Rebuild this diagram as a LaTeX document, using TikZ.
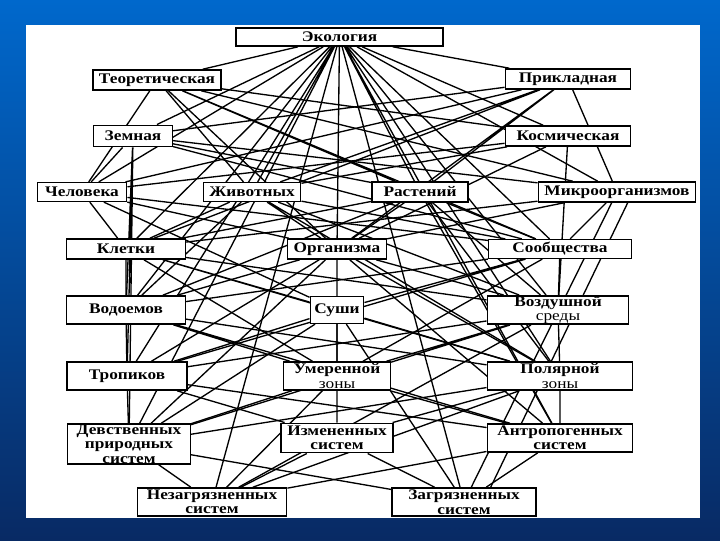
\documentclass[tikz,border=0pt]{standalone}
\usepackage{fontspec}
\setmainfont[FakeStretch=1.18]{Liberation Serif}
\usetikzlibrary{positioning}
\pgfdeclarelayer{bg}
\pgfsetlayers{bg,main}
\definecolor{slidetop}{RGB}{0,104,204}
\definecolor{slidebot}{RGB}{8,42,100}

\begin{document}
\begin{tikzpicture}[
      x=0.75pt, y=-0.75pt,
      block/.style={draw=black, fill=white, line width=1.2pt, inner sep=0.3pt,
        align=center, font=\fontsize{11}{10.8}\selectfont\bfseries},
      link/.style={line width=1pt, black}
    ]

    % slide
    \begin{pgfonlayer}{bg}
    \shade[top color=slidetop, bottom color=slidebot] (0,0) rectangle (720,540);
    \fill[white] (26,25) rectangle (700,518);
    \end{pgfonlayer}
    \useasboundingbox (0,0) rectangle (720,540);

    % level 0-1
    \node[block, minimum width=155pt, minimum height=13.5pt] (eco)    at (339.5,37) {Экология};
    \node[block, minimum width=96pt,  minimum height=15pt]   (teor)   at (157,80)   {Теоретическая};
    \node[block, minimum width=94pt,  minimum height=15pt]   (prikl)  at (568,79)   {Прикладная};
    \node[block, minimum width=59pt,  minimum height=16pt]   (zemn)   at (133,136)  {Земная};
    \node[block, minimum width=94pt,  minimum height=15pt]   (kosm)   at (568,136)  {Космическая};

    % objects
    \node[block, minimum width=67pt,  minimum height=14pt]   (chel)   at (82,192)   {Человека};
    \node[block, minimum width=73pt,  minimum height=14pt]   (zhiv)   at (252,192)  {Животных};
    \node[block, minimum width=72pt,  minimum height=15pt]   (rast)   at (420,192)  {Растений};
    \node[block, minimum width=118pt, minimum height=15pt]   (micro)  at (617,192)  {Микроорганизмов};

    % levels of organisation
    \node[block, minimum width=89pt,  minimum height=15pt]   (klet)   at (126,249)  {Клетки};
    \node[block, minimum width=74pt,  minimum height=15pt]   (org)    at (337,249)  {Организма};
    \node[block, minimum width=107pt, minimum height=14pt]   (soob)   at (560,249)  {Сообщества};

    % environments
    \node[block, minimum width=89pt,  minimum height=21pt]   (vodo)   at (126,310)  {Водоемов};
    \node[block, minimum width=40pt,  minimum height=20pt]   (sushi)  at (337,310)  {Суши};
    \node[block, minimum width=106pt, minimum height=20pt]   (vozd)   at (558,310)  {Воздушной\\\mdseries среды};

    % zones
    \node[block, minimum width=90pt,  minimum height=21pt]   (trop)   at (127,376)  {Тропиков};
    \node[block, minimum width=80pt,  minimum height=21pt]   (umer)   at (337,376)  {Умеренной\\\mdseries зоны};
    \node[block, minimum width=109pt, minimum height=21pt]   (polyar) at (560,376)  {Полярной\\\mdseries зоны};

    % systems
    \node[block, minimum width=92pt,  minimum height=30pt]   (devstv) at (129,444)  {Девственных\\природных\\систем};
    \node[block, minimum width=84pt,  minimum height=22pt]   (izmen)  at (337,438)  {Измененных\\систем};
    \node[block, minimum width=109pt, minimum height=21pt]   (antrop) at (560,438)  {Антропогенных\\систем};
    \node[block, minimum width=112pt, minimum height=21pt]   (nezag)  at (212,502)  {Незагрязненных\\систем};
    \node[block, minimum width=108pt, minimum height=21pt]   (zagr)   at (464,502)  {Загрязненных\\систем};

    \begin{pgfonlayer}{bg}
    % from the root
    \draw[link] (eco) -- (teor) (eco) -- (prikl) (eco) -- (zemn) (eco) -- (kosm)
      (eco) -- (chel) (eco) -- (zhiv) (eco) -- (rast) (eco) -- (micro)
      (eco) -- (klet) (eco) -- (org) (eco) -- (soob)
      (eco) -- (vodo) (eco) -- (vozd) (eco) -- (trop) (eco) -- (polyar)
      (eco) -- (devstv) (eco) -- (antrop) (eco) -- (nezag) (eco) -- (zagr);

    % theoretical / applied
    \draw[link] (teor) -- (chel) (teor) -- (kosm) (teor) -- (rast) (teor) -- (micro)
      (teor) -- (org) (teor) -- (soob) (teor) -- (zhiv);
    \draw[link] (prikl) -- (zemn) (prikl) -- (chel) (prikl) -- (zhiv) (prikl) -- (klet)
      (prikl) -- (org) (prikl) -- (rast) (prikl) -- (micro);

    % terrestrial / space
    \draw[link] (zemn) -- (vodo) (zemn) -- (trop) (zemn) -- (devstv) (zemn) -- (chel)
      (zemn) -- (rast) (zemn) -- (micro) (zemn) -- (soob);
    \draw[link] (kosm) -- (zhiv) (kosm) -- (org) (kosm) -- (vozd) (kosm) -- (chel);

    % objects
    \draw[link] (chel) -- (klet) (chel) -- (org) (chel) -- (soob) (chel) -- (sushi);
    \draw[link] (zhiv) -- (klet) (zhiv) -- (org) (zhiv) -- (soob) (zhiv) -- (vodo)
      (zhiv) -- (vozd) (zhiv) -- (polyar);
    \draw[link] (rast) -- (klet) (rast) -- (org) (rast) -- (soob) (rast) -- (vodo)
      (rast) -- (vozd) (rast) -- (polyar) (rast) -- (antrop);
    \draw[link] (micro) -- (org) (micro) -- (soob) (micro) -- (klet) (micro) -- (zagr)
      ([xshift=8pt]micro.south) -- ([xshift=20pt]zagr.north);

    % levels of organisation
    \draw[link] (klet) -- (vodo) (klet) -- (sushi) (klet) -- (vozd) (klet) -- (umer)
      (klet) -- (polyar);
    \draw[link] (org) -- (vodo) (org) -- (sushi) (org) -- (vozd) (org) -- (trop)
      (org) -- (umer) (org) -- (polyar) (org) -- (devstv) (org) -- (antrop);
    \draw[link] (soob) -- (vodo) (soob) -- (sushi) (soob) -- (vozd) (soob) -- (trop)
      (soob) -- (umer);

    % environments
    \draw[link] (vodo) -- (trop) (vodo) -- (umer) (vodo) -- (polyar) (vodo) -- (antrop);
    \draw[link] (sushi) -- (trop) (sushi) -- (umer) (sushi) -- (polyar) (sushi) -- (devstv)
      (sushi) -- (zagr);
    \draw[link] (vozd) -- (trop) (vozd) -- (umer) (vozd) -- (polyar) (vozd) -- (devstv)
      (vozd) -- (nezag);

    % zones
    \draw[link] (trop) -- (devstv) (trop) -- (izmen) (trop) -- (antrop);
    \draw[link] (umer) -- (devstv) (umer) -- (izmen) (umer) -- (antrop) (umer) -- (nezag);
    \draw[link] (polyar) -- (devstv) (polyar) -- (izmen) (polyar) -- (antrop) (polyar) -- (nezag);

    % systems
    \draw[link] (devstv) -- (nezag) (devstv) -- (zagr);
    \draw[link] (izmen) -- (nezag) (izmen) -- (zagr);
    \draw[link] (antrop) -- (nezag) (antrop) -- (zagr);
    \end{pgfonlayer}

    \end{tikzpicture}
\end{document}
